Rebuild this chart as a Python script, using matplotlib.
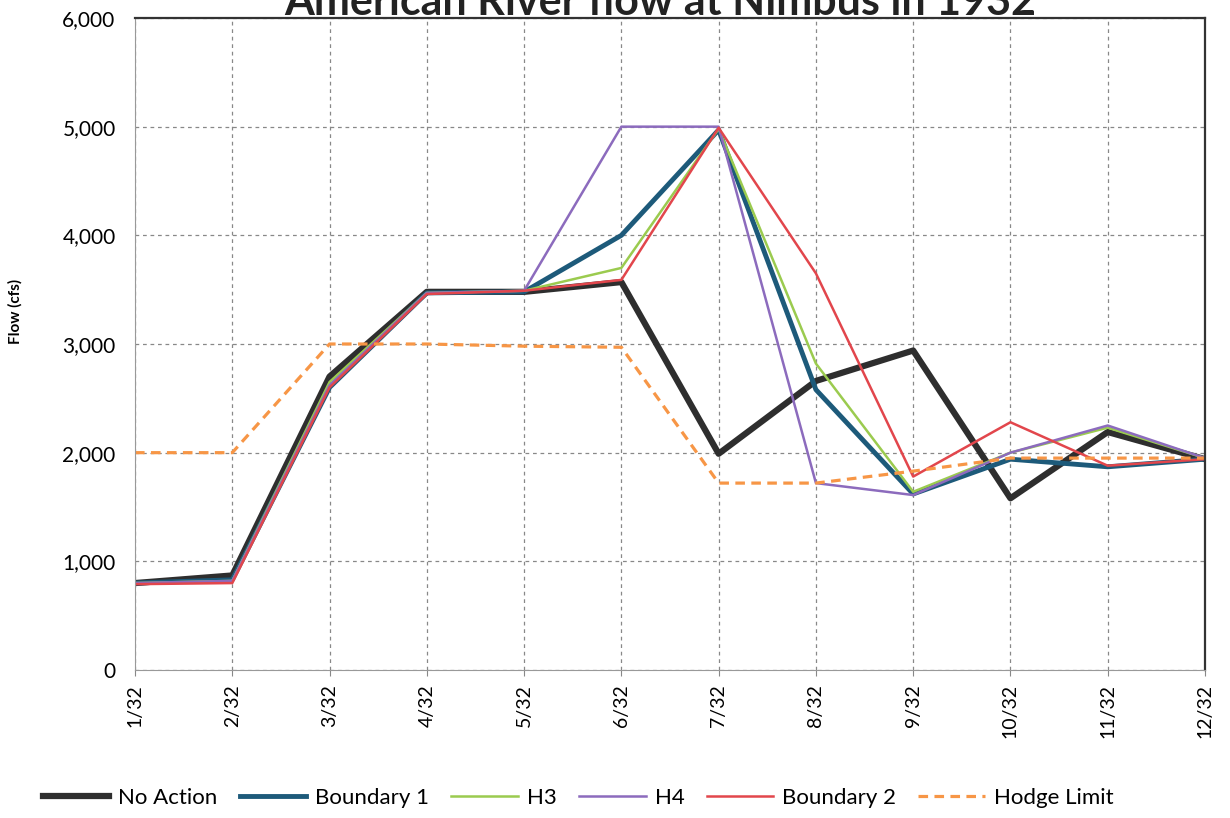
import matplotlib.pyplot as plt
from matplotlib.ticker import FuncFormatter

# months of 1932
months = ['1/32', '2/32', '3/32', '4/32', '5/32', '6/32',
          '7/32', '8/32', '9/32', '10/32', '11/32', '12/32']

no_action = [800, 870, 2700, 3480, 3480, 3570, 1990, 2660, 2940, 1580, 2190, 1940]
boundary1 = [800, 830, 2600, 3470, 3480, 4000, 4970, 2580, 1620, 1940, 1870, 1940]
h3 = [800, 820, 2650, 3470, 3490, 3700, 4980, 2820, 1640, 2000, 2230, 1950]
h4 = [800, 820, 2620, 3470, 3490, 5000, 5000, 1720, 1610, 2000, 2250, 1950]
boundary2 = [790, 800, 2600, 3460, 3490, 3590, 4990, 3650, 1780, 2280, 1880, 1940]
hodge = [2000, 2000, 3000, 3000, 2980, 2970, 1720, 1720, 1830, 1950, 1950, 1950]

plt.rcParams['font.family'] = ['Lato', 'DejaVu Sans']

fig = plt.figure(figsize=(12.3, 8.18), dpi=100)
ax = fig.add_axes([135/1230, 1 - 670/818, 1070/1230, 652/818])

x = list(range(len(months)))
ax.plot(x, no_action, color='#2e2e2e', lw=4.5, label='No Action')
ax.plot(x, boundary1, color='#1d5a7a', lw=3.5, label='Boundary 1')
ax.plot(x, h3, color='#9bcb4f', lw=1.8, label='H3')
ax.plot(x, h4, color='#8c6bbd', lw=1.8, label='H4')
ax.plot(x, boundary2, color='#e2464c', lw=1.8, label='Boundary 2')
ax.plot(x, hodge, color='#f79646', lw=2.3, ls=(0, (3, 2)), label='Hodge Limit')

ax.set_xlim(0, 11)
ax.set_ylim(0, 6000)
ax.set_yticks(range(0, 6001, 1000))
ax.yaxis.set_major_formatter(FuncFormatter(lambda v, p: f'{int(v):,}'))
ax.set_xticks(x)
ax.set_xticklabels(months, rotation=90, fontsize=14)
ax.tick_params(axis='y', labelsize=15, length=0, pad=14)
ax.tick_params(axis='x', length=4, color='#888888', pad=6)
ax.grid(True, ls=(0, (3, 3)), color='#888888', lw=0.9)
ax.set_axisbelow(True)

for s in ['left', 'bottom']:
    ax.spines[s].set_color('#999999')
for s in ['top', 'right']:
    ax.spines[s].set_color('#333333')
    ax.spines[s].set_linewidth(1.6)

ax.set_ylabel('Flow (cfs)', fontsize=11, fontweight='bold')
ax.yaxis.set_label_coords(-0.105, 0.55)

fig.text(0.537, 0.998, 'American River flow at Nimbus in 1932', ha='center', va='center',
         fontsize=31, fontweight='bold', color='#222222')

fig.legend(loc='center', bbox_to_anchor=(0.47, 0.025), ncol=6, frameon=False,
           fontsize=16, handlelength=3.0, columnspacing=1.0, handletextpad=0.4)

fig.savefig('out.png', dpi=100)
